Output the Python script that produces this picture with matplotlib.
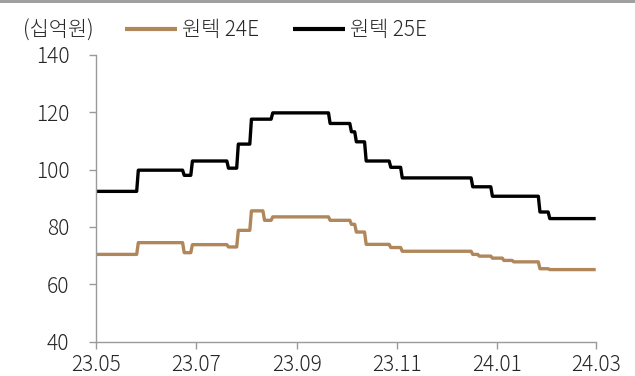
import matplotlib
matplotlib.use("Agg")
import matplotlib.pyplot as plt
import pandas as pd

FONT = ['Noto Sans CJK JP', 'Noto Sans CJK KR', 'DejaVu Sans']
plt.rcParams['font.family'] = FONT

# change-point dates and values (step series)
dates_24e = ["2023-05-01", "2023-05-27", "2023-06-24", "2023-06-29", "2023-07-21", "2023-07-27",
             "2023-08-04", "2023-08-12", "2023-08-17", "2023-09-21", "2023-10-04", "2023-10-07",
             "2023-10-13", "2023-10-28", "2023-11-04", "2023-12-17", "2023-12-21", "2023-12-29",
             "2024-01-05", "2024-01-11", "2024-01-27", "2024-02-02", "2024-03-01"]
vals_24e = [70.4, 74.5, 71.0, 73.8, 73.0, 78.8,
            85.6, 82.3, 83.5, 82.3, 80.9, 78.2,
            73.9, 72.8, 71.5, 70.4, 69.8, 69.1,
            68.3, 67.8, 65.4, 65.1, 65.1]

dates_25e = ["2023-05-01", "2023-05-27", "2023-06-24", "2023-06-29", "2023-07-21", "2023-07-27",
             "2023-08-04", "2023-08-17", "2023-09-21", "2023-10-04", "2023-10-07", "2023-10-13",
             "2023-10-28", "2023-11-04", "2023-12-17", "2023-12-29", "2024-01-27", "2024-02-02",
             "2024-03-01"]
vals_25e = [92.4, 99.8, 98.0, 103.0, 100.5, 108.9,
            117.6, 119.8, 116.1, 113.2, 109.7, 103.0,
            100.8, 97.1, 94.0, 90.7, 85.2, 82.9,
            82.9]

xtick_dates = ["2023-05-01", "2023-07-01", "2023-09-01", "2023-11-01", "2024-01-01", "2024-03-01"]
xtick_labels = ["23.05", "23.07", "23.09", "23.11", "24.01", "24.03"]
yticks = [40, 60, 80, 100, 120, 140]


def daily_steps(dates, vals):
    """Expand change points into a daily series (value holds until next change)."""
    s = pd.Series(vals, index=pd.to_datetime(dates))
    s = s[~s.index.duplicated(keep="first")]
    return s.resample("D").ffill()


gold = "#b0875a"
spine_c = "#9a9a9a"
txt_c = "#262626"
FS = 15

W, H = 635, 376
L, R, T, B = 95.7, 595.7, 55, 341.5
fig = plt.figure(figsize=(W/100, H/100), dpi=100)
ax = fig.add_axes([L/W, 1-B/H, (R-L)/W, (B-T)/H])

s24 = daily_steps(dates_24e, vals_24e)
s25 = daily_steps(dates_25e, vals_25e)
ax.plot(s24.index, s24.values, color=gold, lw=2.4, solid_joinstyle="round",
        solid_capstyle="butt", label="원텍 24E")
ax.plot(s25.index, s25.values, color="black", lw=2.4, solid_joinstyle="round",
        solid_capstyle="butt", label="원텍 25E")

ax.set_ylim(40, 140)
ax.set_xlim(pd.Timestamp("2023-05-01"), pd.Timestamp("2024-03-01"))
ax.set_yticks(yticks)
ax.set_yticklabels([str(v) for v in yticks])
ax.set_xticks(pd.to_datetime(xtick_dates))
ax.set_xticklabels(xtick_labels)

for s in ["top", "right"]:
    ax.spines[s].set_visible(False)
for s in ["left", "bottom"]:
    ax.spines[s].set_color(spine_c)
    ax.spines[s].set_linewidth(1.0)
ax.tick_params(axis="both", colors=spine_c, length=5, width=1.0, labelcolor=txt_c,
               labelsize=FS)
ax.tick_params(axis="y", pad=14)
ax.tick_params(axis="x", pad=4)
for lab in ax.get_xticklabels() + ax.get_yticklabels():
    lab.set_fontweight(300)

fig.text(23/W, 1-31/H, "(십억원)", fontsize=FS, fontweight=300, color=txt_c,
         va="center", ha="left")
leg = fig.legend(loc="center left", bbox_to_anchor=(125/W, 1-30/H), ncol=2, frameon=False,
                 fontsize=FS, handlelength=2.5, handletextpad=0.25, columnspacing=1.6,
                 borderaxespad=0, borderpad=0)
for t in leg.get_texts():
    t.set_fontweight(300)
    t.set_color(txt_c)
for h in leg.get_lines():
    h.set_linewidth(3.0)

# gray top bar
fig.add_artist(plt.Rectangle((0, 1-3/H), 1, 3/H, transform=fig.transFigure,
                             color="#a0a0a0", lw=0))

fig.savefig("out.png", dpi=100)
